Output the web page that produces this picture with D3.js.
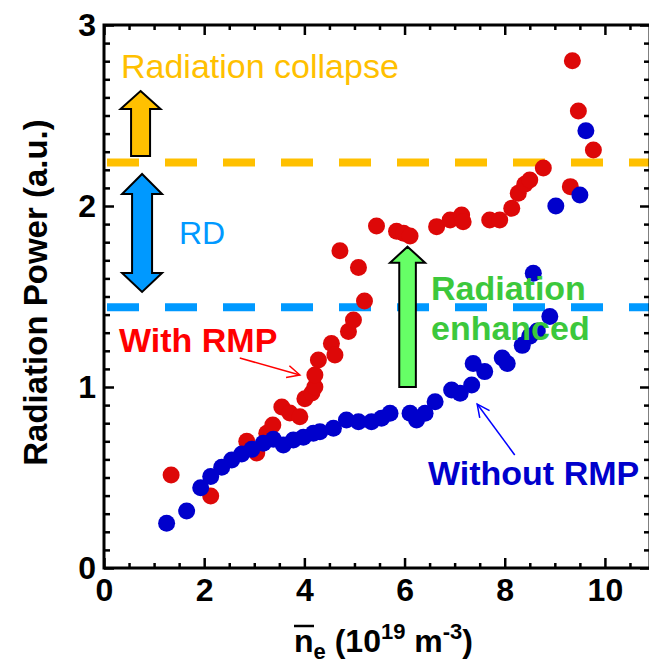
<!DOCTYPE html>
<html>
<head>
<meta charset="utf-8">
<script src="https://cdn.jsdelivr.net/npm/d3@7"></script>
<style>
  body { margin: 0; background: #fff; }
  text { font-family: "Liberation Sans", Arial, sans-serif; }
</style>
</head>
<body>
<div id="chart"></div>
<script>
// density (1e19 m^-3) and radiation power (a.u.)
const withRmpX = [1.34, 2.13, 2.85, 3.05, 3.25, 3.37, 3.55, 3.71, 3.91, 4.01, 4.15, 4.21, 4.21, 4.28, 4.54, 4.61,
    4.88, 4.98, 5.20, 5.08, 4.71, 5.44, 5.84, 5.98, 6.11, 6.64, 6.91, 7.14, 7.17, 7.70, 7.90, 8.14, 8.27,
    8.40, 8.50, 8.77, 9.31, 9.35, 9.47, 9.77];
const withRmpY = [0.514, 0.398, 0.70, 0.635, 0.745, 0.79, 0.89, 0.856, 0.836, 0.935, 0.967, 1.0, 1.066, 1.149, 1.24, 1.177,
    1.306, 1.37, 1.475, 1.66, 1.753, 1.89, 1.86, 1.85, 1.834, 1.886, 1.923, 1.95, 1.913, 1.923, 1.923, 1.987, 2.07,
    2.12, 2.144, 2.21, 2.107, 2.803, 2.525, 2.309];

const withoutRmpX = [1.25, 1.65, 1.93, 2.13, 2.35, 2.55, 2.75, 2.95, 3.18, 3.38, 3.58, 3.78, 3.98, 4.18, 4.31, 4.58,
    4.84, 5.08, 5.34, 5.54, 5.71, 6.11, 6.24, 6.41, 6.61, 6.94, 7.11, 7.34, 7.37, 7.60, 7.95, 8.05, 8.35,
    8.50, 8.65, 8.90, 8.57, 9.02, 9.50, 9.62];
const withoutRmpY = [0.247, 0.315, 0.444, 0.505, 0.556, 0.597, 0.63, 0.656, 0.689, 0.711, 0.68, 0.707, 0.722, 0.744, 0.753, 0.772,
    0.818, 0.808, 0.808, 0.827, 0.855, 0.855, 0.818, 0.855, 0.919, 0.983, 0.965, 1.011, 1.13, 1.085, 1.16, 1.13, 1.23,
    1.28, 1.31, 1.39, 1.628, 2.0, 2.061, 2.416];

const xMajor = [0, 2, 4, 6, 8, 10];
const yMajor = [0, 1, 2, 3];
const collapseLevel = 2.24;
const rdLevel = 1.44;

const width = 649, height = 668;
const svg = d3.select("#chart").append("svg")
    .attr("width", width)
    .attr("height", height);

const x = d3.scaleLinear().domain([0, 10.9]).range([104, 650]);
const y = d3.scaleLinear().domain([0, 3]).range([568, 25]);

const xMinor = d3.range(0, 10.9, 0.5).filter(v => v % 2 !== 0);
const yMinor = d3.range(0, 3.0001, 0.1).filter(v => Math.abs(v - Math.round(v)) > 1e-6);

// dashed threshold lines
svg.append("line")
    .attr("x1", x(0.06)).attr("x2", x(10.9))
    .attr("y1", y(collapseLevel)).attr("y2", y(collapseLevel))
    .attr("stroke", "#ffc000")
    .attr("stroke-width", 8)
    .attr("stroke-dasharray", "32,26");
svg.append("line")
    .attr("x1", x(0.06)).attr("x2", x(10.9))
    .attr("y1", y(rdLevel)).attr("y2", y(rdLevel))
    .attr("stroke", "#0099ff")
    .attr("stroke-width", 8)
    .attr("stroke-dasharray", "32,26");

// points
const redPts = withRmpX.map((v, i) => [v, withRmpY[i]]);
const bluePts = withoutRmpX.map((v, i) => [v, withoutRmpY[i]]);
svg.append("g").selectAll("circle")
    .data(redPts).enter().append("circle")
    .attr("cx", d => x(d[0])).attr("cy", d => y(d[1]))
    .attr("r", 8.5)
    .attr("fill", "#dd0808");
svg.append("g").selectAll("circle")
    .data(bluePts).enter().append("circle")
    .attr("cx", d => x(d[0])).attr("cy", d => y(d[1]))
    .attr("r", 8.5)
    .attr("fill", "#0000cc");

// block arrows (x center in data units, y in data units, widths in px)
function upArrow(cx, tip, headBase, bottom, hw, sw) {
    const c = x(cx);
    return `M${c},${y(tip)} L${c + hw},${y(headBase)} L${c + sw},${y(headBase)} L${c + sw},${y(bottom)}
        L${c - sw},${y(bottom)} L${c - sw},${y(headBase)} L${c - hw},${y(headBase)} Z`;
}
function doubleArrow(cx, top, topBase, botBase, bot, hw, sw) {
    const c = x(cx);
    return `M${c},${y(top)} L${c + hw},${y(topBase)} L${c + sw},${y(topBase)} L${c + sw},${y(botBase)}
        L${c + hw},${y(botBase)} L${c},${y(bot)} L${c - hw},${y(botBase)} L${c - sw},${y(botBase)}
        L${c - sw},${y(topBase)} L${c - hw},${y(topBase)} Z`;
}
svg.append("path")
    .attr("d", upArrow(0.73, 2.635, 2.536, 2.276, 20, 9.5))
    .attr("fill", "#ffc000").attr("stroke", "#000").attr("stroke-width", 2);
svg.append("path")
    .attr("d", doubleArrow(0.76, 2.177, 2.066, 1.63, 1.525, 20, 10))
    .attr("fill", "#0099ff").attr("stroke", "#000").attr("stroke-width", 2);
svg.append("path")
    .attr("d", upArrow(6.06, 1.775, 1.687, 1.0, 17.5, 8.3))
    .attr("fill", "#66ff66").attr("stroke", "#000").attr("stroke-width", 2);

// thin pointer arrows
function pointer(x1, y1, x2, y2, color) {
    const a = Math.atan2(y(y2) - y(y1), x(x2) - x(x1));
    const L = 14, s = 0.45;
    svg.append("line")
        .attr("x1", x(x1)).attr("y1", y(y1)).attr("x2", x(x2)).attr("y2", y(y2))
        .attr("stroke", color).attr("stroke-width", 1.5);
    svg.append("path")
        .attr("d", `M${x(x2) - L * Math.cos(a - s)},${y(y2) - L * Math.sin(a - s)} L${x(x2)},${y(y2)}
            L${x(x2) - L * Math.cos(a + s)},${y(y2) - L * Math.sin(a + s)}`)
        .attr("fill", "none").attr("stroke", color).attr("stroke-width", 1.5);
}
pointer(2.71, 1.16, 3.91, 1.066, "#ff0000");
pointer(8.2, 0.624, 7.45, 0.906, "#0000ff");

// axes: ticks inward on all four sides
function styleAxis(g) {
    g.select(".domain").remove();
    g.selectAll("line").attr("stroke", "#000").attr("stroke-width", 2.5);
    g.selectAll("text")
        .style("font-family", "'Liberation Sans', Arial, sans-serif")
        .style("font-size", "32px")
        .style("font-weight", "bold")
        .attr("fill", "#000");
}
svg.append("g").attr("transform", `translate(0,${y(0)})`)
    .call(d3.axisBottom(x).tickValues(xMajor).tickSize(-10).tickPadding(10).tickFormat(d3.format("d")))
    .call(styleAxis);
svg.append("g").attr("transform", `translate(0,${y(0)})`)
    .call(d3.axisBottom(x).tickValues(xMinor).tickSize(-5).tickFormat(""))
    .call(styleAxis);
svg.append("g").attr("transform", `translate(0,${y(3)})`)
    .call(d3.axisTop(x).tickValues(xMajor).tickSize(-10).tickFormat(""))
    .call(styleAxis);
svg.append("g").attr("transform", `translate(0,${y(3)})`)
    .call(d3.axisTop(x).tickValues(xMinor).tickSize(-5).tickFormat(""))
    .call(styleAxis);
svg.append("g").attr("transform", `translate(${x(0)},0)`)
    .call(d3.axisLeft(y).tickValues(yMajor).tickSize(-10).tickPadding(8).tickFormat(d3.format("d")))
    .call(styleAxis);
svg.append("g").attr("transform", `translate(${x(0)},0)`)
    .call(d3.axisLeft(y).tickValues(yMinor).tickSize(-6).tickFormat(""))
    .call(styleAxis);
svg.append("g").attr("transform", `translate(${x(10.9)},0)`)
    .call(d3.axisRight(y).tickValues(yMajor).tickSize(-10).tickFormat(""))
    .call(styleAxis);
svg.append("g").attr("transform", `translate(${x(10.9)},0)`)
    .call(d3.axisRight(y).tickValues(yMinor).tickSize(-6).tickFormat(""))
    .call(styleAxis);

// frame
svg.append("rect")
    .attr("x", x(0)).attr("y", y(3))
    .attr("width", x(10.9) - x(0)).attr("height", y(0) - y(3))
    .attr("fill", "none").attr("stroke", "#000").attr("stroke-width", 3);

// labels inside the plot
svg.append("text").attr("x", 121).attr("y", 78)
    .style("font-size", "34px").attr("fill", "#ffc000")
    .text("Radiation collapse");
svg.append("text").attr("x", 179).attr("y", 244)
    .style("font-size", "32px").attr("fill", "#0099ff")
    .text("RD");
svg.append("text").attr("x", 119).attr("y", 352)
    .style("font-size", "34px").style("font-weight", "bold").attr("fill", "#ff0000")
    .text("With RMP");
svg.append("text").attr("x", 428).attr("y", 485)
    .style("font-size", "34px").style("font-weight", "bold").attr("fill", "#0000cc")
    .text("Without RMP");
svg.append("text").attr("x", 431).attr("y", 300)
    .style("font-size", "34px").style("font-weight", "bold").attr("fill", "#3cc83c")
    .text("Radiation");
svg.append("text").attr("x", 431).attr("y", 340)
    .style("font-size", "34px").style("font-weight", "bold").attr("fill", "#3cc83c")
    .text("enhanced");

// axis titles
svg.append("text")
    .attr("transform", `translate(47,${(y(0) + y(3)) / 2 - 4}) rotate(-90)`)
    .attr("text-anchor", "middle")
    .style("font-size", "33px").style("font-weight", "bold")
    .text("Radiation Power (a.u.)");

const xt = svg.append("text")
    .attr("x", 294).attr("y", 652)
    .style("font-size", "32px").style("font-weight", "bold");
xt.append("tspan").text("n");
xt.append("tspan").attr("dy", 7).style("font-size", "22px").text("e");
xt.append("tspan").attr("dy", -7).text(" (10");
xt.append("tspan").attr("dy", -13).style("font-size", "22px").text("19");
xt.append("tspan").attr("dy", 13).text(" m");
xt.append("tspan").attr("dy", -13).style("font-size", "22px").text("-3");
xt.append("tspan").attr("dy", 13).text(")");
svg.append("line")
    .attr("x1", 294).attr("x2", 314)
    .attr("y1", 626).attr("y2", 626)
    .attr("stroke", "#000").attr("stroke-width", 2.5);
</script>
</body>
</html>
